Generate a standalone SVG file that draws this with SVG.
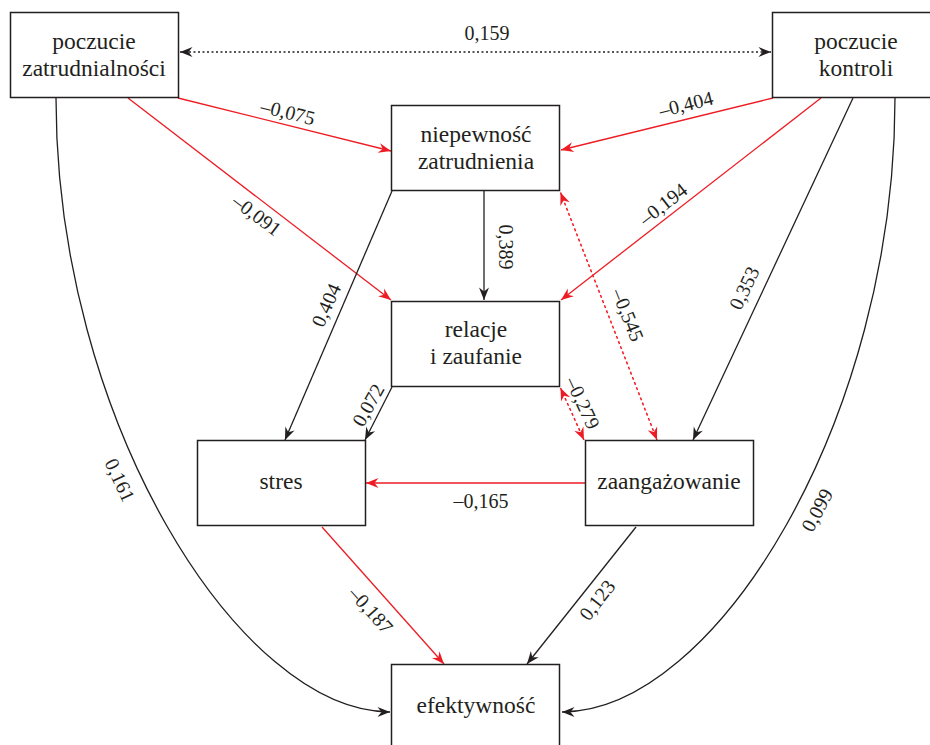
<svg xmlns="http://www.w3.org/2000/svg" width="930" height="745" viewBox="0 0 930 745">
<style>
.box{fill:#fff;stroke:#231f20;stroke-width:1.5}
.nt{font-size:23.5px;fill:#231f20;text-anchor:middle}
.lb{font-size:20px;fill:#231f20;text-anchor:middle}
.k{fill:none;stroke:#231f20;stroke-width:1.3;marker-end:url(#ak)}
.r{fill:none;stroke:#ed1c24;stroke-width:1.3;marker-end:url(#ar)}
.kd{fill:none;stroke:#231f20;stroke-width:1.5;stroke-dasharray:2 2.5;marker-start:url(#ak);marker-end:url(#ak)}
.rd{fill:none;stroke:#ed1c24;stroke-width:1.5;stroke-dasharray:3 2.5;marker-start:url(#ar);marker-end:url(#ar)}
</style>
<defs>
<marker id="ak" markerUnits="userSpaceOnUse" viewBox="-13 -6 14 12" refX="0" refY="0" markerWidth="14" markerHeight="12" orient="auto-start-reverse">
<path d="M0,0 L-12.5,-5 L-8.5,0 L-12.5,5 Z" fill="#231f20"/>
</marker>
<marker id="ar" markerUnits="userSpaceOnUse" viewBox="-13 -6 14 12" refX="0" refY="0" markerWidth="14" markerHeight="12" orient="auto-start-reverse">
<path d="M0,0 L-12.5,-5 L-8.5,0 L-12.5,5 Z" fill="#ed1c24"/>
</marker>
</defs>
<rect width="930" height="745" fill="#fff"/>
<g id="connectors">
<path class="kd" d="M180,52 L771,52"/>
<path class="r" d="M178,98 L391,151"/>
<path class="r" d="M128,98 L391,300"/>
<path class="r" d="M773,98 L561,150"/>
<path class="r" d="M821,98 L561,300"/>
<path class="k" d="M853,98 L693,440"/>
<path class="k" d="M392,191 L285,440"/>
<path class="k" d="M484,191 L484,300"/>
<path class="rd" d="M560.5,192.5 L657,440"/>
<path class="k" d="M392,387 L365,440"/>
<path class="rd" d="M560.5,388 L584,440"/>
<path class="r" d="M585,483 L366,483"/>
<path class="r" d="M322,527 L444,664"/>
<path class="k" d="M636,527 L527,664"/>
<path class="k" d="M56,98 C56,420 240,712 390,712"/>
<path class="k" d="M895,98 C895,420 715,712 562,712"/>
</g>
<g id="labels" font-family="'Liberation Serif', 'Times New Roman', serif">
<text class="lb" transform="translate(487,33)" y="7">0,159</text>
<text class="lb" transform="translate(288,112) rotate(14)" y="7">–0,075</text>
<text class="lb" transform="translate(257,215) rotate(37)" y="7">–0,091</text>
<text class="lb" transform="translate(686,104) rotate(-14)" y="7">–0,404</text>
<text class="lb" transform="translate(663,204) rotate(-38)" y="7">–0,194</text>
<text class="lb" transform="translate(506,247) rotate(90)" y="7">0,389</text>
<text class="lb" transform="translate(326,305) rotate(-66)" y="7">0,404</text>
<text class="lb" transform="translate(744,288) rotate(-65)" y="7">0,353</text>
<text class="lb" transform="translate(628,315) rotate(68)" y="7">–0,545</text>
<text class="lb" transform="translate(368,405) rotate(-61)" y="7">0,072</text>
<text class="lb" transform="translate(583,403) rotate(65)" y="7">–0,279</text>
<text class="lb" transform="translate(481,501)" y="7">–0,165</text>
<text class="lb" transform="translate(371,610) rotate(48)" y="7">–0,187</text>
<text class="lb" transform="translate(597,600) rotate(-52)" y="7">0,123</text>
<text class="lb" transform="translate(120,480) rotate(65)" y="7">0,161</text>
<text class="lb" transform="translate(817,510) rotate(-62)" y="7">0,099</text>
</g>
<g id="nodes" font-family="'Liberation Serif', 'Times New Roman', serif">
<g id="n-zatrudnialnosc">
<rect class="box" x="10.5" y="12.5" width="168" height="85"/>
<text class="nt" x="94" y="49">poczucie</text>
<text class="nt" x="94" y="76">zatrudnialności</text>
</g>
<g id="n-kontrola">
<rect class="box" x="772.5" y="12.5" width="168" height="85"/>
<text class="nt" x="856" y="49">poczucie</text>
<text class="nt" x="856" y="76">kontroli</text>
</g>
<g id="n-niepewnosc">
<rect class="box" x="391.5" y="105.5" width="168" height="85"/>
<text class="nt" x="476" y="142">niepewność</text>
<text class="nt" x="476" y="169">zatrudnienia</text>
</g>
<g id="n-relacje">
<rect class="box" x="391.5" y="301.5" width="168" height="85"/>
<text class="nt" x="476" y="337">relacje</text>
<text class="nt" x="476" y="364">i zaufanie</text>
</g>
<g id="n-stres">
<rect class="box" x="197.5" y="440.5" width="168" height="85"/>
<text class="nt" x="281" y="489">stres</text>
</g>
<g id="n-zaangazowanie">
<rect class="box" x="585.5" y="440.5" width="168" height="85"/>
<text class="nt" x="669" y="489">zaangażowanie</text>
</g>
<g id="n-efektywnosc">
<rect class="box" x="391.5" y="664.5" width="168" height="85"/>
<text class="nt" x="476" y="713">efektywność</text>
</g>
</g>
</svg>
